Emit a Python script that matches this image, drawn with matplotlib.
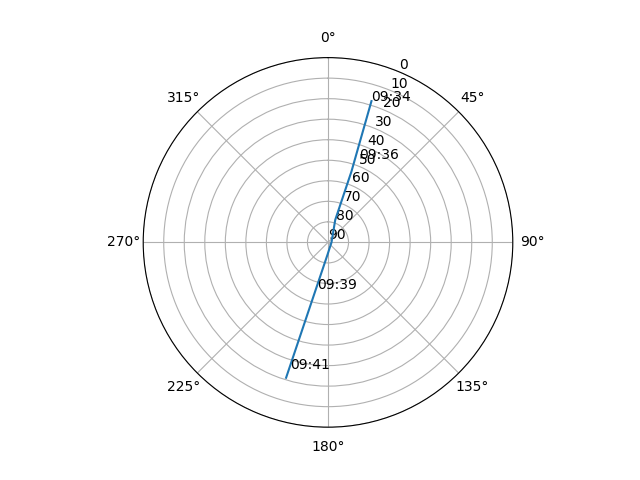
import numpy as np
import matplotlib
matplotlib.use("Agg")
import matplotlib.pyplot as plt

# pass track (azimuth deg, elevation deg)
track_az = [17.1, 18.3, 17.8, 26.6, 90.0, 163.0, 181.5, 195.8, 197.2]
track_el = [18.0, 53.7, 78.5, 84.3, 88.3, 87.2, 84.3, 55.7, 21.0]

# time labels
label_times = ["09:34", "09:36", "09:39", "09:41"]
label_az = [17.0, 20.3, 193.5, 196.5]
label_el = [18.0, 46.9, 66.5, 25.6]

r_ticks = list(range(0, 91, 10))

fig = plt.figure(figsize=(6.4, 4.8), dpi=100)
ax = fig.add_subplot(111, projection="polar")
ax.set_theta_zero_location("N")
ax.set_theta_direction(-1)

ax.plot(np.radians(track_az), track_el)
for t, a, e in zip(label_times, label_az, label_el):
    ax.text(np.radians(a), e, t)

ax.set_ylim(90, 0)
ax.set_yticks(r_ticks)
ax.set_rlabel_position(22.5)

fig.savefig("out.png", dpi=100)
